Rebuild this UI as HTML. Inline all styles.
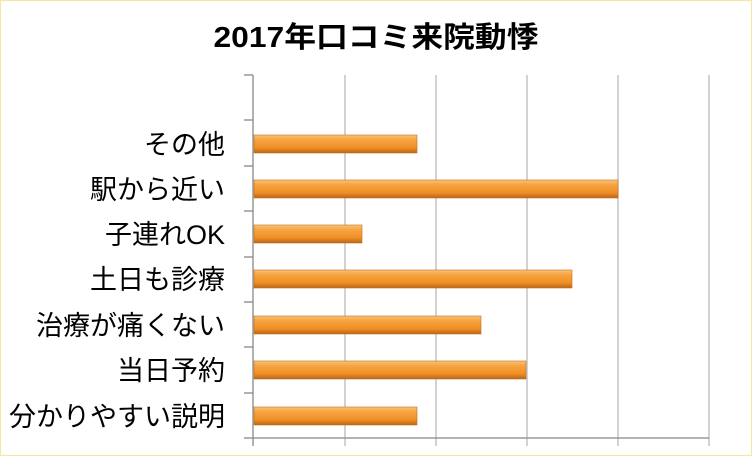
<!DOCTYPE html>
<html><head><meta charset="utf-8"><style>
body{margin:0;width:752px;height:456px;overflow:hidden;background:#fff;font-family:"Liberation Sans","Noto Sans CJK JP",sans-serif}
</style></head><body>
<svg width="752" height="456" xmlns="http://www.w3.org/2000/svg">
<defs>
<linearGradient id="g" x1="0" y1="0" x2="0" y2="1">
<stop offset="0" stop-color="#f9c47a"/><stop offset="0.25" stop-color="#f7a443"/>
<stop offset="0.7" stop-color="#f08f24"/><stop offset="1" stop-color="#b8661a"/>
</linearGradient>
</defs>
<rect x="0.5" y="0.5" width="751" height="455" fill="#fff" stroke="#f5e6a0"/>
<text x="376" y="47" text-anchor="middle" font-size="29" font-weight="bold" fill="#000" textLength="325" lengthAdjust="spacingAndGlyphs">2017年口コミ来院動悸</text>
<g stroke="#bbb" stroke-width="1.3">
<line x1="345" y1="75" x2="345" y2="446"/><line x1="436" y1="75" x2="436" y2="446"/>
<line x1="527" y1="75" x2="527" y2="446"/><line x1="618" y1="75" x2="618" y2="446"/>
<line x1="709" y1="75" x2="709" y2="446"/>
</g>
<g stroke="#888" stroke-width="1.3">
<line x1="253" y1="75" x2="253" y2="446"/><line x1="253" y1="438" x2="709" y2="438"/>
<line x1="244" y1="75" x2="253" y2="75"/><line x1="244" y1="120" x2="253" y2="120"/>
<line x1="244" y1="166" x2="253" y2="166"/><line x1="244" y1="211" x2="253" y2="211"/>
<line x1="244" y1="257" x2="253" y2="257"/><line x1="244" y1="302" x2="253" y2="302"/>
<line x1="244" y1="347" x2="253" y2="347"/><line x1="244" y1="393" x2="253" y2="393"/>
<line x1="244" y1="438" x2="253" y2="438"/>
</g>
<g fill="url(#g)" stroke="#c07020" stroke-width="0.6">
<rect x="254" y="135" width="163" height="18"/>
<rect x="254" y="180" width="364" height="18"/>
<rect x="254" y="225" width="108" height="18"/>
<rect x="254" y="270" width="318" height="18"/>
<rect x="254" y="316" width="227" height="18"/>
<rect x="254" y="361" width="272" height="18"/>
<rect x="254" y="407" width="163" height="18"/>
</g>
<g font-size="27" text-anchor="end" fill="#000">
<text x="225" y="154">その他</text>
<text x="225" y="199">駅から近い</text>
<text x="225" y="244">子連れOK</text>
<text x="225" y="289">土日も診療</text>
<text x="225" y="335">治療が痛くない</text>
<text x="225" y="380">当日予約</text>
<text x="225" y="426">分かりやすい説明</text>
</g>
</svg>
</body></html>
